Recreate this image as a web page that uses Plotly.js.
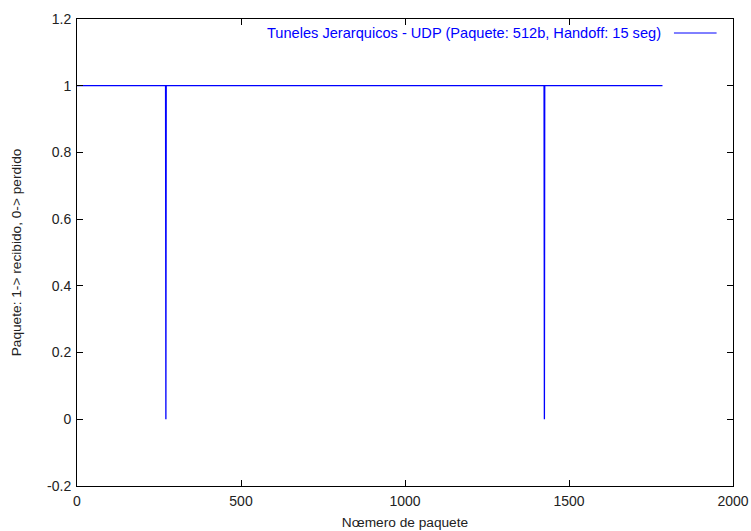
<!DOCTYPE html>
<html>
<head>
<meta charset="utf-8">
<script src="https://cdn.plot.ly/plotly-3.0.1.min.js"></script>
<style>
  body { margin: 0; background: #fff; }
  #chart { width: 751px; height: 531px; }
</style>
</head>
<body>
<div id="chart"></div>
<script>
// packet number vs received (1) / lost (0)
const packetNum = [0, 270, 271, 272, 1424, 1425, 1426, 1785];
const received  = [1, 1,   0,   1,   1,    0,    1,    1];

const seriesName = 'Tuneles Jerarquicos - UDP (Paquete: 512b, Handoff: 15 seg)';

const xTickVals = [0, 500, 1000, 1500, 2000];
const yTickVals = [-0.2, 0, 0.2, 0.4, 0.6, 0.8, 1, 1.2];
const yTickText = ['-0.2', '0', '0.2', '0.4', '0.6', '0.8', '1', '1.2'];

const BLUE = '#0000ff';
const FONT = 'Liberation Sans, Arial, sans-serif';

let trace = {
    x: packetNum,
    y: received,
    mode: 'lines',
    name: seriesName,
    line: {color: BLUE, width: 1.3},
    showlegend: false
};

let axisCommon = {
    showline: true,
    linecolor: '#000',
    linewidth: 1,
    mirror: 'allticks',
    ticks: 'inside',
    ticklen: 6,
    tickcolor: '#000',
    showgrid: false,
    zeroline: false,
    tickfont: {family: FONT, size: 14, color: '#222'}
};

let layout = {
    width: 751,
    height: 531,
    margin: {l: 77, r: 18, t: 19, b: 45},
    paper_bgcolor: '#fff',
    plot_bgcolor: '#fff',
    font: {family: FONT, color: '#222'},
    xaxis: Object.assign({}, axisCommon, {
        range: [0, 2000],
        tickvals: xTickVals,
        ticklabelstandoff: 2,
        title: {text: 'Nœmero de paquete', font: {family: FONT, size: 13.7, color: '#222'}, standoff: 9}
    }),
    yaxis: Object.assign({}, axisCommon, {
        range: [-0.2, 1.2],
        tickvals: yTickVals,
        ticktext: yTickText,
        ticklabelstandoff: 2,
        title: {text: 'Paquete: 1-> recibido, 0-> perdido', font: {family: FONT, size: 13.7, color: '#222'}, standoff: 22}
    }),
    annotations: [{
        xref: 'paper', yref: 'paper',
        x: 0.894, y: 0.970,
        xanchor: 'right', yanchor: 'middle',
        text: seriesName,
        showarrow: false,
        font: {family: FONT, size: 14.6, color: BLUE}
    }],
    shapes: [{
        type: 'line',
        xref: 'paper', yref: 'paper',
        x0: 0.910, x1: 0.975, y0: 0.970, y1: 0.970,
        line: {color: BLUE, width: 1}
    }]
};

Plotly.newPlot('chart', [trace], layout, {staticPlot: true});
</script>
</body>
</html>
